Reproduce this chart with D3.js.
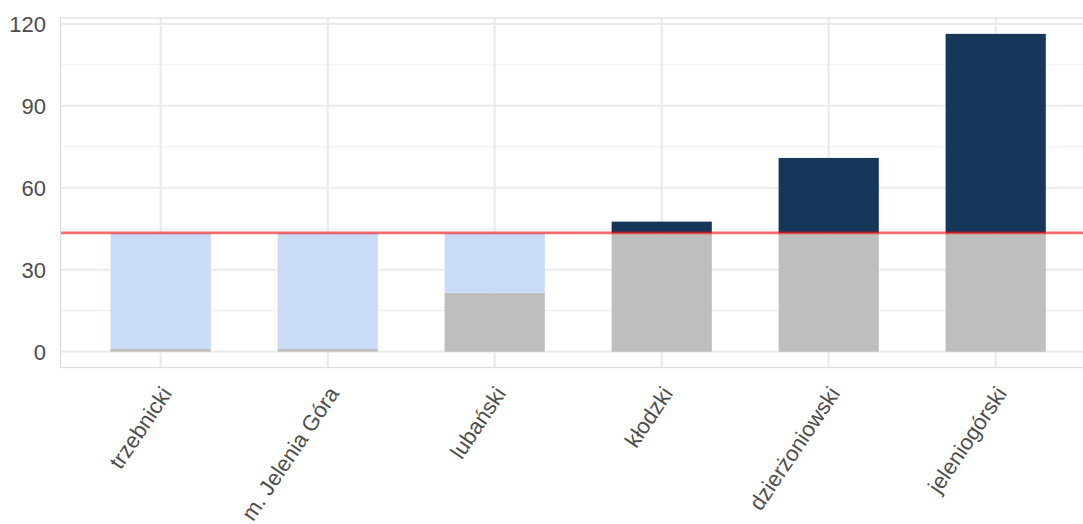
<!DOCTYPE html>
<html>
<head>
<meta charset="utf-8">
<script src="https://cdn.jsdelivr.net/npm/d3@7"></script>
<style>
  html, body { margin: 0; padding: 0; background: #fff; }
  svg { display: block; font-family: "Liberation Sans", Arial, sans-serif; }
</style>
</head>
<body>
<svg id="chart" width="1083" height="524"></svg>
<script>
const categories = ["trzebnicki", "m. Jelenia Góra", "lubański", "kłodzki", "dzierżoniowski", "jeleniogórski"];
const values = [1, 1, 21.6, 47.6, 70.9, 116.3];
const threshold = 43.5;
const yTicks = [0, 30, 60, 90, 120];
const yMinorTicks = [15, 45, 75, 105];

(function () {
const svg = d3.select("#chart");
const pLeft = 60.5, pTop = 18, pBottom = 367.6;
const step = 167;
const pRight = pLeft + step * (categories.length - 1 + 1.2);

const maxV = d3.max(values);
const pad = maxV * 0.05;
const y = d3.scaleLinear().domain([-pad, maxV + pad]).range([pBottom, pTop]);
const x = d3.scalePoint().domain(categories).range([pLeft, pRight]).padding(0.6);
const bw = x.step() * 0.6;

const g = svg.append("g");

// grid minor
g.selectAll("line.minor").data(yMinorTicks).join("line")
  .attr("class", "minor")
  .attr("x1", pLeft).attr("x2", pRight)
  .attr("y1", d => y(d)).attr("y2", d => y(d))
  .attr("stroke", "#efefef").attr("stroke-width", 1.2);
// grid major
g.selectAll("line.major").data(yTicks).join("line")
  .attr("class", "major")
  .attr("x1", pLeft).attr("x2", pRight)
  .attr("y1", d => y(d)).attr("y2", d => y(d))
  .attr("stroke", "#ebebeb").attr("stroke-width", 2.2);
g.selectAll("line.vmajor").data(categories).join("line")
  .attr("class", "vmajor")
  .attr("x1", d => x(d)).attr("x2", d => x(d))
  .attr("y1", pTop).attr("y2", pBottom)
  .attr("stroke", "#ebebeb").attr("stroke-width", 2.2);

// bars
const rows = categories.map((c, i) => ({
  c, v: values[i],
  base: Math.min(values[i], threshold),
  gap: Math.max(threshold - values[i], 0),
  over: Math.max(values[i] - threshold, 0)
}));
g.selectAll("rect.base").data(rows).join("rect")
  .attr("class", "base")
  .attr("x", d => x(d.c) - bw / 2).attr("width", bw)
  .attr("y", d => y(d.base)).attr("height", d => y(0) - y(d.base))
  .attr("fill", "#bebebe");
g.selectAll("rect.gap").data(rows.filter(d => d.gap > 0)).join("rect")
  .attr("class", "gap")
  .attr("x", d => x(d.c) - bw / 2).attr("width", bw)
  .attr("y", d => y(d.base + d.gap)).attr("height", d => y(d.base) - y(d.base + d.gap))
  .attr("fill", "#c9dbf6");
g.selectAll("rect.over").data(rows.filter(d => d.over > 0)).join("rect")
  .attr("class", "over")
  .attr("x", d => x(d.c) - bw / 2).attr("width", bw)
  .attr("y", d => y(threshold + d.over)).attr("height", d => y(threshold) - y(threshold + d.over))
  .attr("fill", "#16375a");

// threshold line
g.append("line")
  .attr("x1", pLeft).attr("x2", pRight)
  .attr("y1", y(threshold)).attr("y2", y(threshold))
  .attr("stroke", "#ff0000").attr("stroke-opacity", 0.58).attr("stroke-width", 2.6);

// panel border
g.append("rect")
  .attr("x", pLeft).attr("y", pTop)
  .attr("width", pRight - pLeft).attr("height", pBottom - pTop)
  .attr("fill", "none").attr("stroke", "#dcdcdc").attr("stroke-width", 1.2);

// y axis labels
svg.append("g").selectAll("text").data(yTicks).join("text")
  .attr("x", 46).attr("y", d => y(d))
  .attr("dy", "0.36em")
  .attr("text-anchor", "end")
  .attr("font-size", 22)
  .attr("fill", "#4d4d4d")
  .text(d => d);

// x axis labels
svg.append("g").selectAll("text").data(categories).join("text")
  .attr("transform", d => `translate(${x(d) - 1},${pBottom + 17}) rotate(-56)`)
  .attr("dy", "0.72em")
  .attr("text-anchor", "end")
  .attr("font-size", 22)
  .attr("fill", "#4d4d4d")
  .text(d => d);
})();
</script>
</body>
</html>
